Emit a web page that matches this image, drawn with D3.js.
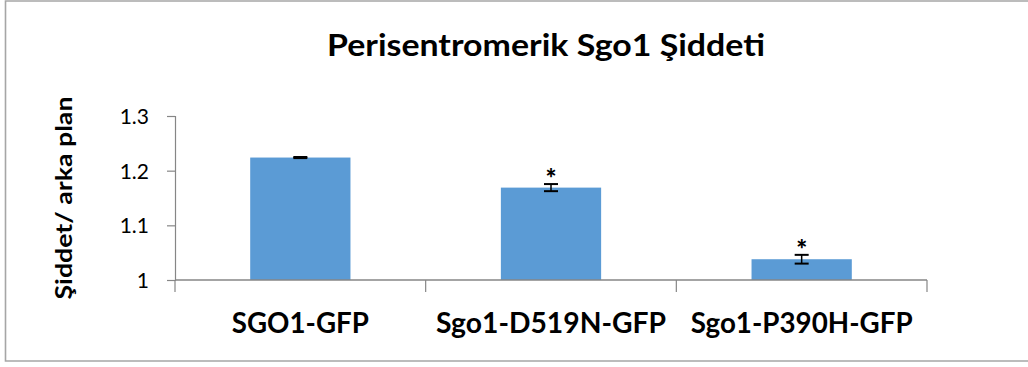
<!DOCTYPE html>
<html>
<head>
<meta charset="utf-8">
<script src="https://cdn.jsdelivr.net/npm/d3@7"></script>
<style>
  html, body { margin: 0; padding: 0; background: #fff; }
  svg { display: block; }
  text { font-family: Lato, "Open Sans", sans-serif; fill: #000; }
</style>
</head>
<body>
<svg id="chart" width="1028" height="367"></svg>
<script>
// Pericentromeric Sgo1 intensity relative to background
const categories = ["SGO1-GFP", "Sgo1-D519N-GFP", "Sgo1-P390H-GFP"];
const values = [1.224, 1.169, 1.038];
const errors = [0.001, 0.0065, 0.008];
const significant = [false, true, true];
const yTicks = [1, 1.1, 1.2, 1.3];
const yTickLabels = ["1", "1.1", "1.2", "1.3"];
const title = "Perisentromerik Sgo1 Şiddeti";
const yTitle = "Şiddet/ arka plan";

const svg = d3.select("#chart");
const W = 1028, H = 367;
const m = { left: 175, right: 101, top: 116, bottom: 87 };
const plotW = W - m.left - m.right;
const plotH = H - m.top - m.bottom;

// chart area frame (left, top and bottom edges)
svg.append("path")
  .attr("d", `M1100,1 H5.5 V361 H1100`)
  .attr("fill", "none")
  .attr("stroke", "#a6a6a6")
  .attr("stroke-width", 1.6);

const x = d3.scaleBand().domain(categories).range([0, plotW]).paddingInner(0.6).paddingOuter(0.3);
const y = d3.scaleLinear().domain([1, 1.3]).range([plotH, 0]);

const g = svg.append("g").attr("transform", `translate(${m.left},${m.top})`);

// bars
g.selectAll("rect.bar").data(categories).join("rect")
  .attr("class", "bar")
  .attr("x", d => x(d))
  .attr("width", x.bandwidth())
  .attr("y", (d, i) => y(values[i]))
  .attr("height", (d, i) => y(1) - y(values[i]))
  .attr("fill", "#5b9bd5");

// y axis
const yAxis = d3.axisLeft(y).tickValues(yTicks)
  .tickFormat((d, i) => yTickLabels[i]).tickSize(8).tickPadding(18);
const ya = g.append("g").call(yAxis);
ya.select(".domain").attr("stroke", "#868686").attr("stroke-width", 1.2);
ya.selectAll(".tick line").attr("stroke", "#868686").attr("stroke-width", 1.2);
ya.selectAll(".tick text")
  .style("font-size", "21px")
  .attr("font-family", "Lato, sans-serif")
  .attr("fill", "#000")
  .attr("dy", "0.35em");

// x axis with tick marks between categories
const xa = g.append("g").attr("transform", `translate(0,${plotH})`);
xa.append("line").attr("x1", 0).attr("x2", plotW)
  .attr("stroke", "#868686").attr("stroke-width", 1.4);
const step = plotW / categories.length;
d3.range(categories.length + 1).forEach(i => {
  xa.append("line")
    .attr("x1", i * step).attr("x2", i * step)
    .attr("y1", 0).attr("y2", 12)
    .attr("stroke", "#868686").attr("stroke-width", 1.2);
});
const catWidths = [137, 230, 222];
xa.selectAll("text.cat").data(categories).join("text")
  .attr("class", "cat")
  .attr("x", d => x(d) + x.bandwidth() / 2)
  .attr("y", 53)
  .attr("text-anchor", "middle")
  .attr("font-weight", 700)
  .style("font-size", "28px")
  .attr("textLength", (d, i) => catWidths[i])
  .attr("lengthAdjust", "spacingAndGlyphs")
  .text(d => d);

// error bars
const cap = 7;
const eb = g.selectAll("g.err").data(categories).join("g").attr("class", "err")
  .attr("transform", d => `translate(${x(d) + x.bandwidth() / 2},0)`);
eb.append("line")
  .attr("y1", (d, i) => y(values[i] + errors[i]))
  .attr("y2", (d, i) => y(values[i] - errors[i]))
  .attr("stroke", "#000").attr("stroke-width", 1.5);
eb.append("line").attr("x1", -cap).attr("x2", cap)
  .attr("y1", (d, i) => y(values[i] + errors[i]))
  .attr("y2", (d, i) => y(values[i] + errors[i]))
  .attr("stroke", "#000").attr("stroke-width", 2);
eb.append("line").attr("x1", -cap).attr("x2", cap)
  .attr("y1", (d, i) => y(values[i] - errors[i]))
  .attr("y2", (d, i) => y(values[i] - errors[i]))
  .attr("stroke", "#000").attr("stroke-width", 2);

// significance markers
eb.filter((d, i) => significant[i]).append("text")
  .attr("y", (d) => { const i = categories.indexOf(d); return y(values[i] + errors[i]) + 4; })
  .attr("text-anchor", "middle")
  .attr("font-weight", 900)
  .style("font-size", "26px")
  .text("*");

// title
svg.append("text")
  .attr("x", 546).attr("y", 56)
  .attr("text-anchor", "middle")
  .style("font-size", "31px")
  .attr("font-weight", 700)
  .attr("textLength", 438)
  .attr("lengthAdjust", "spacingAndGlyphs")
  .text(title);

// y axis title
svg.append("text")
  .attr("transform", `translate(72,${m.top + plotH / 2}) rotate(-90)`)
  .attr("text-anchor", "middle")
  .style("font-size", "22px")
  .attr("font-weight", 700)
  .attr("textLength", 203)
  .attr("lengthAdjust", "spacingAndGlyphs")
  .text(yTitle);
</script>
</body>
</html>
